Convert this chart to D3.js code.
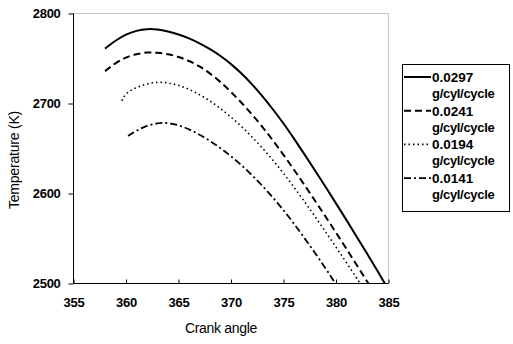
<!DOCTYPE html>
<html>
<head>
<meta charset="utf-8">
<script src="https://cdn.jsdelivr.net/npm/d3@7"></script>
<style>
  body { margin: 0; background: #fff; }
  svg { display: block; font-family: "Liberation Sans", Arial, sans-serif; }
</style>
</head>
<body>
<svg id="chart" width="513" height="344"></svg>
<script>
// crank angle / temperature, one pair of arrays per fuel amount
const seriesLabels = ["0.0297", "0.0241", "0.0194", "0.0141"]
const unitLabel = "g/cyl/cycle"

const angle0297 = [358, 359, 360, 361, 362, 363, 364, 365, 366, 367, 368, 369, 370, 371, 372, 373, 374, 375, 376, 377, 378, 379, 380, 381, 382, 383, 384, 384.65]
const temp0297 = [2761, 2770, 2777, 2781, 2783, 2782.5, 2780, 2777, 2772.5, 2767, 2760.5, 2753, 2744, 2733.5, 2721.5, 2708, 2693.5, 2678, 2661, 2643.5, 2625.5, 2607.5, 2589, 2570.5, 2551.5, 2532.5, 2513, 2500]

const angle0241 = [358, 359, 360, 361, 362, 363, 364, 365, 366, 367, 368, 369, 370, 371, 372, 373, 374, 375, 376, 377, 378, 379, 380, 381, 382, 383, 383.1]
const temp0241 = [2736, 2745, 2751.5, 2755, 2757, 2756.5, 2755, 2752, 2747.5, 2741.5, 2733.5, 2724, 2713, 2701, 2688, 2674, 2659, 2643, 2626.5, 2609.5, 2592, 2574.5, 2556.5, 2538.5, 2520, 2501.5, 2500]

const angle0194 = [359.6, 360, 361, 362, 363, 364, 365, 366, 367, 368, 369, 370, 371, 372, 373, 374, 375, 376, 377, 378, 379, 380, 381, 382, 382.3]
const temp0194 = [2703, 2712, 2718, 2722, 2724, 2723, 2720.5, 2716, 2710, 2703, 2694.5, 2685, 2674.5, 2663, 2650.5, 2637, 2622.5, 2607, 2591, 2574.5, 2557.5, 2540.5, 2523, 2505.5, 2500]

const angle0141 = [360.2, 361, 362, 363, 364, 365, 366, 367, 368, 369, 370, 371, 372, 373, 374, 375, 376, 377, 378, 379, 379.95]
const temp0141 = [2664, 2670, 2675.5, 2678.5, 2678.5, 2676, 2671.5, 2665.5, 2658.5, 2650.5, 2641.5, 2631.5, 2620.5, 2608.5, 2595.5, 2581.5, 2566.5, 2550.5, 2534, 2517, 2500]

const xTicks = [355, 360, 365, 370, 375, 380, 385]
const yTicks = [2500, 2600, 2700, 2800]

const series = [
    { label: seriesLabels[0], angles: angle0297, temps: temp0297, dash: null, width: 2 },
    { label: seriesLabels[1], angles: angle0241, temps: temp0241, dash: "7,4", width: 2 },
    { label: seriesLabels[2], angles: angle0194, temps: temp0194, dash: "1.5,3", width: 1.6 },
    { label: seriesLabels[3], angles: angle0141, temps: temp0141, dash: "7,3,2,3", width: 1.8 }
]

const svg = d3.select("#chart")
svg.append("rect").attr("width", 513).attr("height", 344).attr("fill", "#fff")

const plot = { left: 73.5, right: 388.5, top: 13.5, bottom: 283.5 }

const x = d3.scaleLinear().domain([355, 385]).range([plot.left, plot.right])
const y = d3.scaleLinear().domain([2500, 2800]).range([plot.bottom, plot.top])

// top and right edges look faint and dotted in the scan
svg.append("path")
    .attr("d", `M${plot.left},${plot.top}H${plot.right}V${plot.bottom}`)
    .attr("fill", "none")
    .attr("stroke", "#888")
    .attr("stroke-dasharray", "1,1")

const line = d3.line()
    .x(d => x(d[0]))
    .y(d => y(d[1]))
    .curve(d3.curveBasis)

svg.append("g").selectAll("path")
    .data(series)
    .join("path")
    .attr("d", s => line(s.angles.map((a, i) => [a, s.temps[i]])))
    .attr("fill", "none")
    .attr("stroke", "#000")
    .attr("stroke-width", s => s.width)
    .attr("stroke-dasharray", s => s.dash)

const xAxis = svg.append("g")
    .attr("transform", `translate(0,${plot.bottom})`)
    .call(d3.axisBottom(x).tickValues(xTicks).tickFormat(d3.format("d")).tickSize(-4).tickPadding(14))
xAxis.select(".domain").attr("d", `M${plot.left},0H${plot.right}`)

const yAxis = svg.append("g")
    .attr("transform", `translate(${plot.left},0)`)
    .call(d3.axisLeft(y).tickValues(yTicks).tickFormat(d3.format("d")).tickSize(5).tickPadding(8))
yAxis.select(".domain").attr("d", `M0,${plot.top}V${plot.bottom}`)

svg.selectAll(".tick text")
    .attr("font-size", 13)
    .attr("font-weight", "bold")
    .attr("font-family", "Liberation Sans, Arial, sans-serif")
    .attr("letter-spacing", -0.3)
    .attr("fill", "#000")

svg.append("text")
    .attr("x", 221)
    .attr("y", 333)
    .attr("text-anchor", "middle")
    .attr("font-size", 14)
    .attr("letter-spacing", -0.3)
    .text("Crank angle")

svg.append("text")
    .attr("transform", "translate(19,160) rotate(-90)")
    .attr("text-anchor", "middle")
    .attr("font-size", 14)
    .attr("letter-spacing", -0.2)
    .text("Temperature (K)")

// legend
const legend = svg.append("g")
legend.append("rect")
    .attr("x", 402.5).attr("y", 64.5)
    .attr("width", 107).attr("height", 147)
    .attr("fill", "#fff")
    .attr("stroke", "#000")

const item = legend.selectAll("g")
    .data(series)
    .join("g")
    .attr("transform", (s, i) => `translate(0,${77 + i * 33.7})`)

item.append("line")
    .attr("x1", 404).attr("x2", 431)
    .attr("stroke", "#000")
    .attr("stroke-width", s => s.width)
    .attr("stroke-dasharray", s => s.dash)

item.append("text")
    .attr("x", 432).attr("y", 5)
    .attr("font-size", 13.5)
    .attr("font-weight", "bold")
    .text(s => s.label)

item.append("text")
    .attr("x", 432).attr("y", 21)
    .attr("font-size", 13)
    .attr("font-weight", "bold")
    .attr("letter-spacing", -0.3)
    .text(unitLabel)
</script>
</body>
</html>
